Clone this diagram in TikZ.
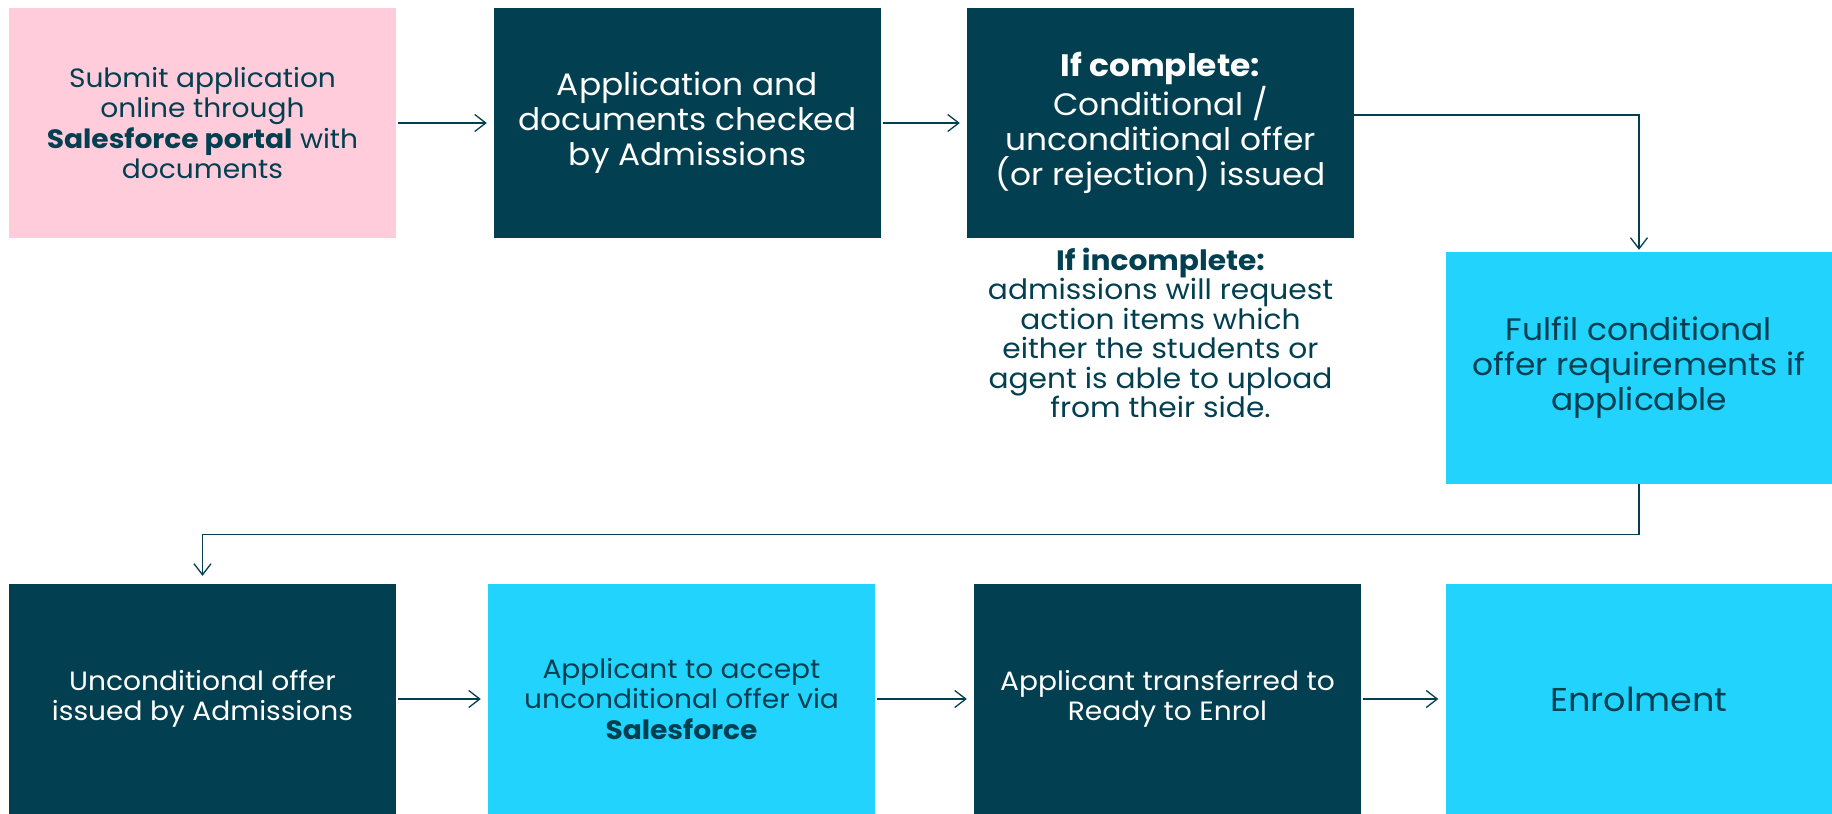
\documentclass[tikz,border=0pt]{standalone}
\usepackage{fontspec}
\setmainfont{Poppins}[FakeStretch=1.06]
\usetikzlibrary{arrows.meta}
\definecolor{darkteal}{HTML}{023F50}
\definecolor{pinkc}{HTML}{FFCCDB}
\definecolor{cyanc}{HTML}{22D3FD}
\begin{document}
\begin{tikzpicture}[x=1pt,y=-1pt,
  box/.style={minimum width=387pt, minimum height=230pt, inner sep=0pt, align=center},
  bigtxt/.style={font=\fontsize{31}{35}\selectfont},
  smalltxt/.style={font=\fontsize{26.5}{30.5}\selectfont},
  darkbox/.style={box, fill=darkteal, text=white},
  pinkbox/.style={box, fill=pinkc, text=darkteal},
  cyanbox/.style={box, fill=cyanc, text=darkteal},
  conn/.style={draw=darkteal, line width=1.3pt, -{Straight Barb[length=11pt,width=17pt,line width=1.3pt]}},
]
\useasboundingbox (0,0) rectangle (1832,814);
\node[pinkbox, smalltxt] (b1) at (202.5,123) {Submit application\\online through\\\textbf{Salesforce portal} with\\documents};
\node[darkbox, bigtxt] (b2) at (687.5,123) {Application and\\documents checked\\by Admissions};
\node[darkbox, bigtxt] (b3) at (1160.5,123) {\textbf{If complete:}\\Conditional /\\unconditional offer\\(or rejection) issued};
\node[text=darkteal, align=center, font=\fontsize{28}{29.4}\selectfont] (inc) at (1160.5,333) {\textbf{If incomplete:}\\admissions will request\\action items which\\either the students or\\agent is able to upload\\from their side.};
\node[cyanbox, bigtxt, minimum height=232pt] (b4) at (1639,368) {Fulfil conditional\\offer requirements if\\applicable};
\node[darkbox, smalltxt] (b5) at (202.5,699) {Unconditional offer\\issued by Admissions};
\node[cyanbox, smalltxt] (b6) at (681.5,699) {Applicant to accept\\unconditional offer via\\\textbf{Salesforce}};
\node[darkbox, smalltxt] (b7) at (1167.5,699) {Applicant transferred to\\Ready to Enrol};
\node[cyanbox, font=\fontsize{33}{38}\selectfont] (b8) at (1639,699) {Enrolment};
\draw[conn, shorten <=2pt, shorten >=7pt] (b1) -- (b2);
\draw[conn, shorten <=2pt, shorten >=7pt] (b2) -- (b3);
\draw[conn, shorten >=2pt] ([yshift=8pt]b3.east) -| (b4.north);
\draw[conn, shorten >=8pt] (b4.south) -- ++(0,50) -| (b5.north);
\draw[conn, shorten <=2pt, shorten >=7pt] (b5) -- (b6);
\draw[conn, shorten <=2pt, shorten >=7pt] (b6) -- (b7);
\draw[conn, shorten <=2pt, shorten >=7pt] (b7) -- (b8);
\end{tikzpicture}
\end{document}
